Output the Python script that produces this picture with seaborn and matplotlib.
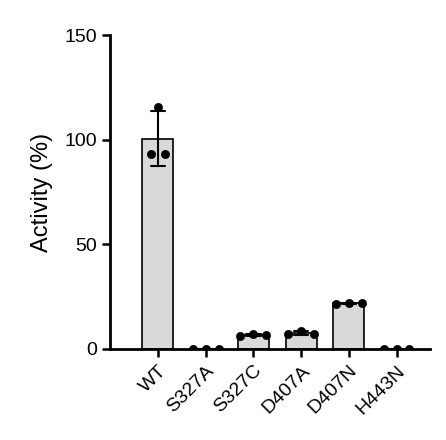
import matplotlib
matplotlib.use("Agg")
import matplotlib.pyplot as plt
import seaborn as sns
import pandas as pd
import numpy as np

categories = ["WT", "S327A", "S327C", "D407A", "D407N", "H443N"]
rep1 = [93.0, 0.0, 6.3, 7.0, 21.5, 0.0]
rep2 = [115.8, 0.0, 7.2, 8.6, 22.1, 0.0]
rep3 = [93.0, 0.0, 6.6, 7.3, 21.9, 0.0]

sns.set_style("ticks")
plt.rcParams['font.family'] = ['Liberation Sans', 'DejaVu Sans']

rows = []
offsets_wt = [-0.14, 0.0, 0.14]
offsets = [-0.27, 0.0, 0.27]
for i, c in enumerate(categories):
    for j, v in enumerate([rep1[i], rep2[i], rep3[i]]):
        off = offsets_wt[j] if i == 0 else offsets[j]
        rows.append({"cat": c, "val": v, "x": i + off})
df = pd.DataFrame(rows)

fig = plt.figure(figsize=(4.46, 4.40), dpi=100)
ax = fig.add_axes([0.247, 0.207, 0.717, 0.713])
sns.barplot(data=df, x="cat", y="val", order=categories, color="#d9d9d9",
            edgecolor="black", linewidth=1.2, width=0.65, errorbar="sd",
            capsize=0.3, err_kws={"color": "black", "linewidth": 1.5}, ax=ax)
sns.scatterplot(data=df, x="x", y="val", color="black", s=35, edgecolor="black",
                zorder=5, ax=ax, legend=False)
ax.set_xlim(-1.0, 5.7)
ax.set_ylim(0, 150)
ax.set_yticks([0, 50, 100, 150])
ax.set_xticks(range(len(categories)))
ax.set_xticklabels(categories, rotation=45, ha="right", rotation_mode="anchor", fontsize=14)
ax.tick_params(axis="both", colors="black", labelcolor="black", width=1.8, length=6, labelsize=14)
ax.set_xlabel("")
ax.set_ylabel("Activity (%)", fontsize=17, color="black", labelpad=8)
for s in ["top", "right"]:
    ax.spines[s].set_visible(False)
for s in ["left", "bottom"]:
    ax.spines[s].set_linewidth(2)
    ax.spines[s].set_color("black")
fig.savefig("out.png", dpi=100)
